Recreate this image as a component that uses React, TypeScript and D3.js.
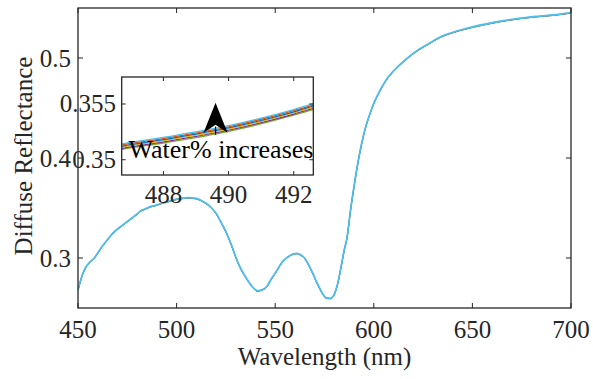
import React from "react";
import * as d3 from "d3";

// Base diffuse reflectance spectrum (wavelength nm, reflectance)
const wavelengths = [
  450, 452, 454, 456, 458, 460, 462, 464, 466, 468, 470, 472, 474, 476, 478, 480, 482, 484,
  486.7, 488, 490, 492, 492.6, 495, 498, 502, 506, 510, 513, 515, 518, 520, 523, 525.4, 528,
  530, 532, 535, 537, 539, 541, 543, 545.5, 548, 551, 553, 556, 559, 561, 563, 565, 567, 569,
  571, 573, 574.5, 576, 578, 580, 581.5, 583, 585, 586.5, 588, 590, 592, 594, 596, 598, 600,
  603, 606, 610, 614, 618, 623, 628, 634, 639, 644, 650, 657, 665, 674, 682, 691, 700,
];
const reflectance = [
  0.268, 0.282, 0.291, 0.296, 0.2995, 0.305, 0.311, 0.316, 0.321, 0.3255, 0.329, 0.332, 0.335,
  0.338, 0.341, 0.344, 0.3474, 0.349, 0.3514, 0.352, 0.35305, 0.3545, 0.355, 0.356, 0.358,
  0.3595, 0.3603, 0.3595, 0.357, 0.3547, 0.3495, 0.3447, 0.334, 0.3247, 0.312, 0.301, 0.2915,
  0.281, 0.275, 0.27, 0.2673, 0.268, 0.271, 0.279, 0.288, 0.2945, 0.3005, 0.304, 0.3047, 0.303,
  0.2997, 0.293, 0.285, 0.276, 0.268, 0.263, 0.26, 0.2597, 0.264, 0.273, 0.287, 0.308, 0.3213,
  0.345, 0.372, 0.396, 0.416, 0.432, 0.444, 0.4547, 0.467, 0.4773, 0.487, 0.4947, 0.5015,
  0.5087, 0.5145, 0.5213, 0.525, 0.528, 0.531, 0.534, 0.537, 0.5397, 0.5415, 0.543, 0.5453,
];

// Series (water contents) — colour and small offset, drawn bottom first
const seriesColors = ["#77AC30", "#7E2F8E", "#EDB120", "#0072BD", "#D95319", "#4DBEEE"];
const seriesOffsets = [-0.0005, -0.0004, -0.0003, -0.0002, -0.0001, 0];

const mainXTicks = [450, 500, 550, 600, 650, 700];
const mainYTicks = [0.3, 0.4, 0.5];
const mainYTickLabels = ["0.3", "0.4", "0.5"];
const insetXTicks = [488, 490, 492];
const insetYTicks = [0.35, 0.355];
const insetYTickLabels = ["0.35", "0.355"];

const FONT = "Liberation Serif";
const AX = "#262626";

const txt = (size: number): React.CSSProperties => ({ fontFamily: FONT, fontSize: size });

export default function App() {
  const x = d3.scaleLinear().domain([450, 700]).range([78, 571]);
  const y = d3.scaleLinear().domain([0.25, 0.55]).range([308, 8]);

  const ix = d3.scaleLinear().domain([486.72, 492.6]).range([121.7, 313.3]);
  const iy = d3.scaleLinear().domain([0.34863, 0.35742]).range([175, 77]);

  const pts = wavelengths.map((w, i) => [w, reflectance[i]] as [number, number]);

  const mainLine = (off: number) =>
    d3
      .line<[number, number]>()
      .x((d) => x(d[0]))
      .y((d) => y(d[1] + off))
      .curve(d3.curveMonotoneX)(pts) || "";
  const insetLine = (off: number) =>
    d3
      .line<[number, number]>()
      .x((d) => ix(d[0]))
      .y((d) => iy(d[1] + off))
      .curve(d3.curveMonotoneX)(pts) || "";

  const [x0, x1] = x.range();
  const [yb, yt] = y.range();
  const [ix0, ix1] = ix.range();
  const [iyb, iyt] = iy.range();
  const last = seriesOffsets.length - 1;

  // arrow in inset data coordinates
  const ax = 489.6;
  const tipY = iy(0.35512);
  const baseY = iy(0.35225);
  const barbY = baseY - 2;
  const notchY = barbY - 8;

  return (
    <svg width={593} height={379} style={{ display: "block", position: "absolute", left: 0, top: 0 }}>
      <rect x={0} y={0} width={593} height={379} fill="#fff" />
      <defs>
        <clipPath id="mainclip">
          <rect x={x0} y={yt} width={x1 - x0} height={yb - yt} />
        </clipPath>
        <clipPath id="insetclip">
          <rect x={ix0} y={iyt} width={ix1 - ix0} height={iyb - iyt} />
        </clipPath>
      </defs>

      {/* main lines */}
      <g clipPath="url(#mainclip)">
        {seriesOffsets.map((o, i) => (
          <path
            key={i}
            d={mainLine(o)}
            fill="none"
            stroke={seriesColors[i]}
            strokeWidth={i === last ? 1.8 : 0.8}
          />
        ))}
      </g>

      {/* main ticks */}
      {mainXTicks.map((t) => (
        <g key={"mx" + t}>
          <line x1={x(t)} x2={x(t)} y1={yb} y2={yb - 5} stroke={AX} strokeWidth={1} />
          <line x1={x(t)} x2={x(t)} y1={yt} y2={yt + 5} stroke={AX} strokeWidth={1} />
          <text x={x(t)} y={338} textAnchor="middle" style={txt(25)} fill={AX}>
            {t}
          </text>
        </g>
      ))}
      {mainYTicks.map((t, i) => (
        <g key={"my" + t}>
          <line x1={x0} x2={x0 + 5} y1={y(t)} y2={y(t)} stroke={AX} strokeWidth={1} />
          <line x1={x1} x2={x1 - 5} y1={y(t)} y2={y(t)} stroke={AX} strokeWidth={1} />
          <text x={71} y={y(t)} dy="0.34em" textAnchor="end" style={txt(25)} fill={AX}>
            {mainYTickLabels[i]}
          </text>
        </g>
      ))}
      <rect x={x0} y={yt} width={x1 - x0} height={yb - yt} fill="none" stroke={AX} strokeWidth={1.3} />

      <text x={(x0 + x1) / 2} y={365} textAnchor="middle" style={txt(25)} fill={AX}>
        Wavelength (nm)
      </text>
      <text
        transform={`translate(32,156) rotate(-90)`}
        textAnchor="middle"
        style={txt(25)}
        fill={AX}
      >
        Diffuse Reflectance
      </text>

      {/* inset */}
      <rect x={ix0} y={iyt} width={ix1 - ix0} height={iyb - iyt} fill="#fff" />
      <g clipPath="url(#insetclip)">
        {seriesOffsets.map((o, i) => (
          <path key={i} d={insetLine(o)} fill="none" stroke={seriesColors[i]} strokeWidth={1.3} />
        ))}
      </g>
      {insetXTicks.map((t) => (
        <g key={"ix" + t}>
          <line x1={ix(t)} x2={ix(t)} y1={iyb} y2={iyb - 4} stroke={AX} strokeWidth={1} />
          <line x1={ix(t)} x2={ix(t)} y1={iyt} y2={iyt + 4} stroke={AX} strokeWidth={1} />
          <text x={ix(t)} y={203} textAnchor="middle" style={txt(25)} fill={AX}>
            {t}
          </text>
        </g>
      ))}
      {insetYTicks.map((t, i) => (
        <g key={"iy" + t}>
          <line x1={ix0} x2={ix0 + 4} y1={iy(t)} y2={iy(t)} stroke={AX} strokeWidth={1} />
          <line x1={ix1} x2={ix1 - 4} y1={iy(t)} y2={iy(t)} stroke={AX} strokeWidth={1} />
          <text x={116} y={iy(t)} dy="0.34em" textAnchor="end" style={txt(25)} fill={AX}>
            {insetYTickLabels[i]}
          </text>
        </g>
      ))}
      <rect x={ix0} y={iyt} width={ix1 - ix0} height={iyb - iyt} fill="none" stroke={AX} strokeWidth={1.3} />

      {/* arrow annotation */}
      <line x1={ix(ax)} x2={ix(ax)} y1={baseY} y2={notchY + 2} stroke="#000" strokeWidth={1.2} />
      <polygon
        points={`${ix(ax)},${tipY} ${ix(ax) + 12},${barbY} ${ix(ax)},${notchY} ${ix(ax) - 12},${barbY}`}
        fill="#000"
      />
      <text x={221} y={158} textAnchor="middle" style={txt(26)} fill="#000">
        Water% increases
      </text>
    </svg>
  );
}
